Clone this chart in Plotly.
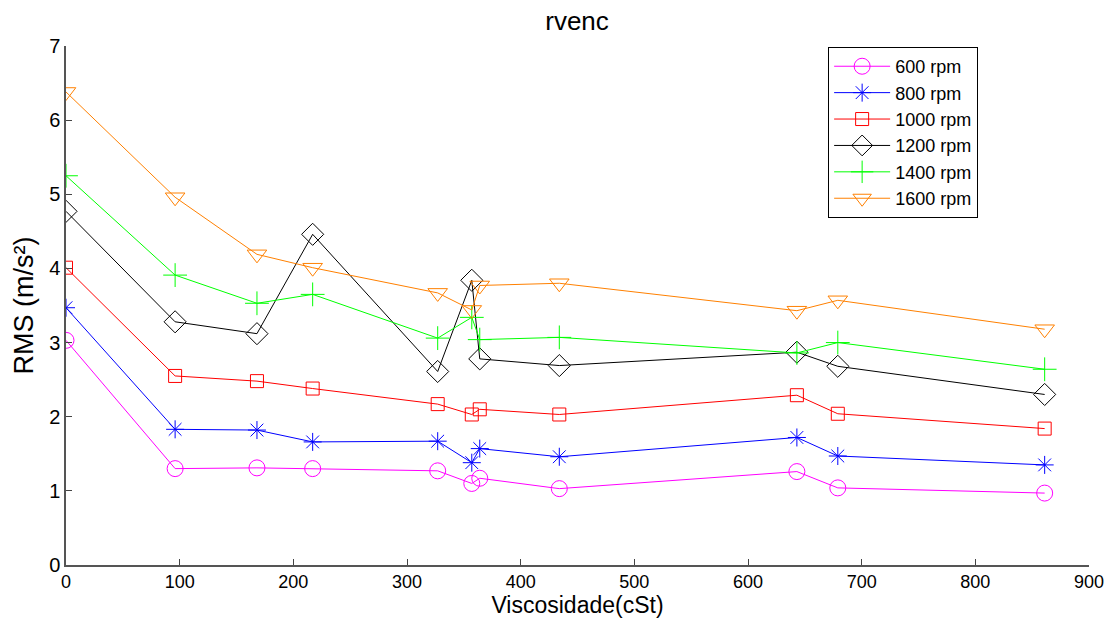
import plotly.graph_objects as go

# Viscosity (cSt) at which each run was measured
viscosidade = [0, 96, 168, 217, 327, 357, 364, 434, 643, 679, 861]

# RMS acceleration (m/s²) for each shaft speed
rms_600 = [3.03, 1.30, 1.31, 1.30, 1.27, 1.10, 1.17, 1.03, 1.26, 1.04, 0.97]
rms_800 = [3.47, 1.83, 1.82, 1.66, 1.67, 1.38, 1.57, 1.46, 1.72, 1.47, 1.35]
rms_1000 = [4.01, 2.55, 2.48, 2.38, 2.17, 2.03, 2.10, 2.03, 2.29, 2.04, 1.84]
rms_1200 = [4.77, 3.28, 3.12, 4.46, 2.61, 3.84, 2.78, 2.69, 2.87, 2.68, 2.30]
rms_1400 = [5.25, 3.91, 3.53, 3.65, 3.06, 3.34, 3.04, 3.07, 2.86, 3.00, 2.64]
rms_1600 = [6.38, 4.96, 4.19, 4.01, 3.67, 3.44, 3.77, 3.80, 3.43, 3.57, 3.18]

series_names = ["600 rpm", "800 rpm", "1000 rpm", "1200 rpm", "1400 rpm", "1600 rpm"]
series_values = [rms_600, rms_800, rms_1000, rms_1200, rms_1400, rms_1600]

styles = [
    dict(color="#ff00ff", symbol="circle-open", size=16),
    dict(color="#0000ff", symbol="asterisk-open", size=15),
    dict(color="#ff0000", symbol="square-open", size=13),
    dict(color="#000000", symbol="diamond-open", size=17),
    dict(color="#00ff00", symbol="cross-thin-open", size=17),
    dict(color="#ff8000", symbol="triangle-down-open", size=17),
]

fig = go.Figure()
for name, vals, st in zip(series_names, series_values, styles):
    fig.add_trace(go.Scatter(
        x=viscosidade, y=vals, name=name, mode="lines+markers",
        line=dict(color=st["color"], width=1),
        marker=dict(symbol=st["symbol"], size=st["size"], color=st["color"],
                    line=dict(color=st["color"], width=1)),
    ))

FAMILY = "Liberation Sans, Arial, Helvetica, sans-serif"

fig.update_layout(
    width=1115, height=628,
    margin=dict(l=66, r=26, t=46, b=63),
    paper_bgcolor="white", plot_bgcolor="white",
    title=dict(text="rvenc", x=0.5175, xanchor="center", y=0.967, yanchor="middle",
               font=dict(family=FAMILY, size=26, color="#000000")),
    xaxis=dict(
        range=[0, 900], tickmode="array", tickvals=list(range(0, 901, 100)),
        ticks="inside", ticklen=6, tickcolor="#444444", showgrid=False, zeroline=False,
        showline=True, linecolor="#555555", linewidth=1.5,
        tickfont=dict(family=FAMILY, size=18, color="#000000"),
        title=dict(text="Viscosidade(cSt)", standoff=2,
                   font=dict(family=FAMILY, size=23, color="#000000")),
    ),
    yaxis=dict(
        range=[0, 7], tickmode="array", tickvals=list(range(0, 8)),
        ticks="inside", ticklen=6, tickcolor="#444444", showgrid=False, zeroline=False,
        showline=True, linecolor="#555555", linewidth=1.5,
        tickfont=dict(family=FAMILY, size=20, color="#000000"),
        title=dict(text="RMS (m/s²)", standoff=8,
                   font=dict(family=FAMILY, size=27, color="#000000")),
    ),
    legend=dict(
        x=0.745, y=0.998, xanchor="left", yanchor="top",
        bgcolor="white", bordercolor="#000000", borderwidth=1,
        font=dict(family=FAMILY, size=18, color="#000000"),
        tracegroupgap=0, itemwidth=56,
    ),
    showlegend=True,
)

fig.write_html("out.html")
